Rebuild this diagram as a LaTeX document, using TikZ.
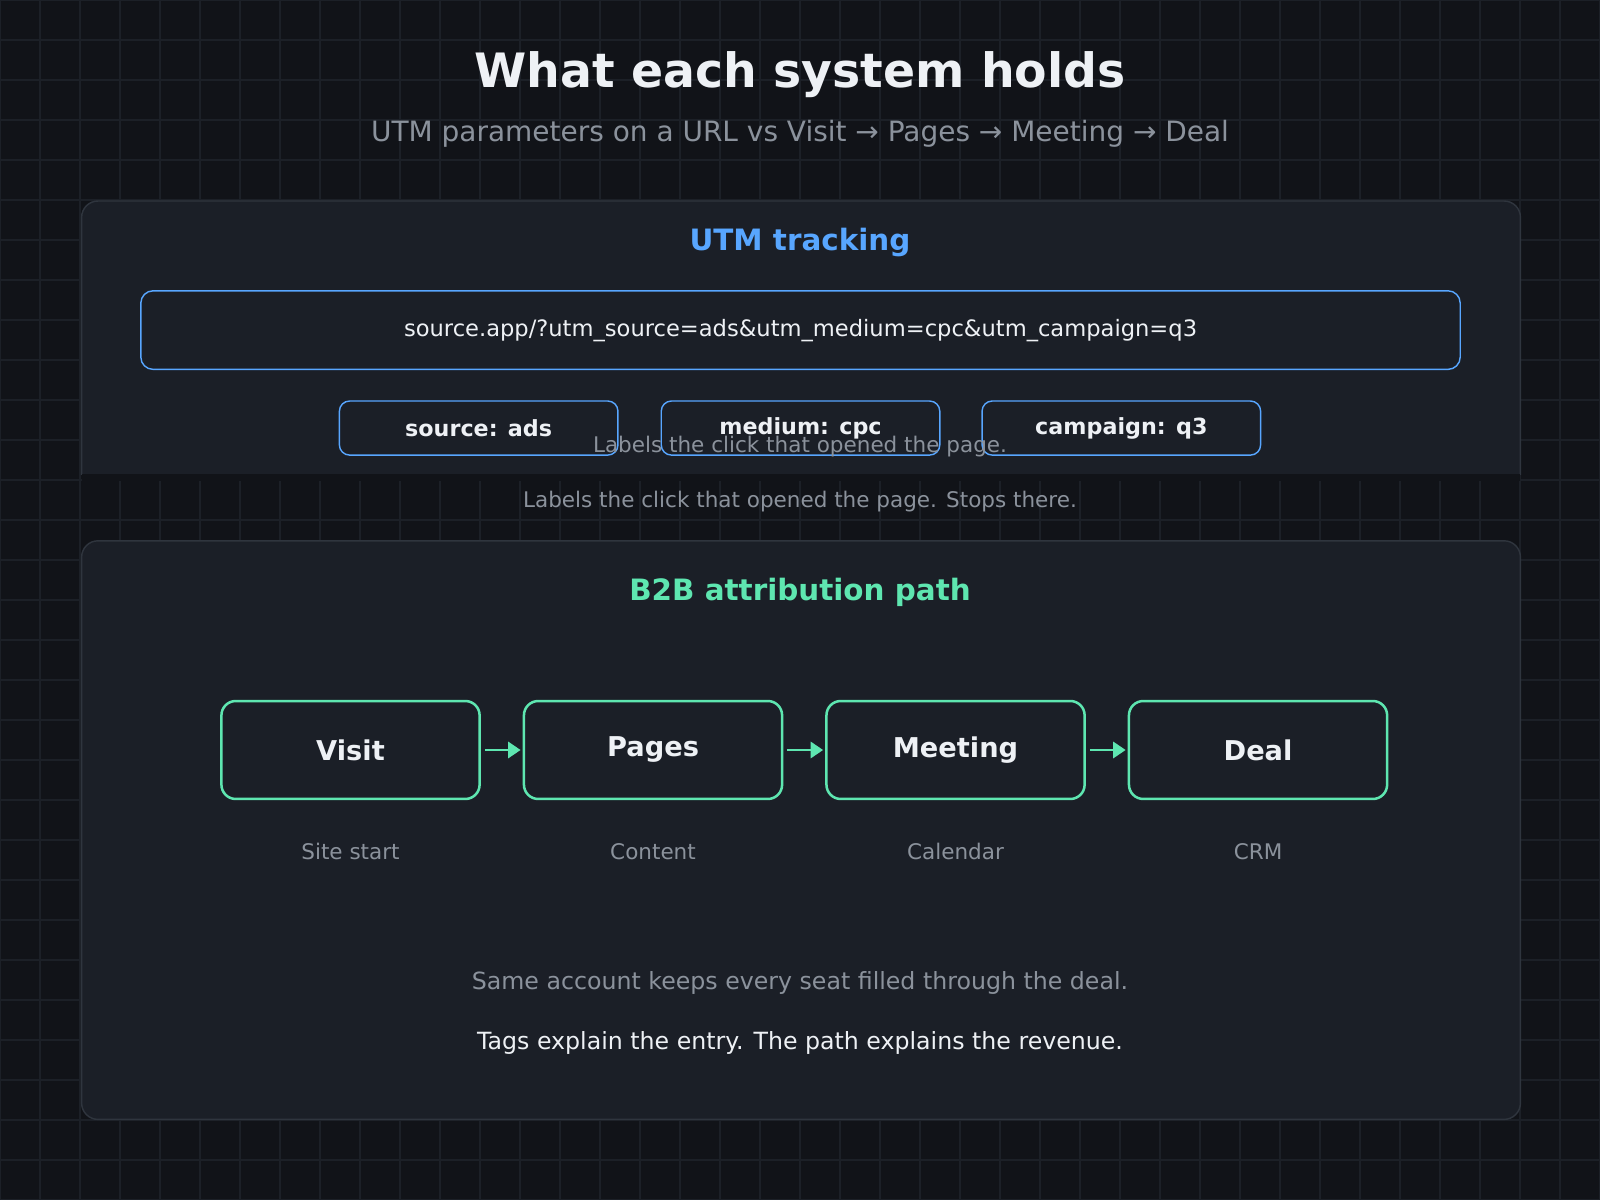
\documentclass[tikz,border=0pt]{standalone}
\usepackage{fontspec}
\setmainfont{DejaVu Sans}
\usetikzlibrary{positioning,arrows.meta}
\definecolor{bgc}{HTML}{111318}
\definecolor{gridc}{HTML}{1C2027}
\definecolor{panelc}{HTML}{1B1F27}
\definecolor{edgec}{HTML}{2F353E}
\definecolor{bluec}{HTML}{58A6FF}
\definecolor{greenc}{HTML}{5EE6B0}
\definecolor{textc}{HTML}{EEF1F5}
\definecolor{mutec}{HTML}{8B929C}
\tikzset{
  panel/.style={fill=panelc, draw=edgec, line width=0.4pt, rounded corners=0.16cm},
  chip/.style={draw=bluec, fill=panelc, line width=0.4pt, rounded corners=0.1cm, minimum width=2.73cm, minimum height=0.53cm, inner sep=0pt, font=\fontsize{6.2}{7}\selectfont\bfseries, text=textc},
  step box/.style={draw=greenc, fill=panelc, line width=0.7pt, rounded corners=0.14cm, minimum width=2.53cm, minimum height=0.96cm, inner sep=0pt, font=\fontsize{7.6}{9}\selectfont\bfseries, text=textc},
  step note/.style={text=mutec, font=\fontsize{6}{7}\selectfont},
  flow/.style={greenc, line width=0.8pt, -{Triangle[length=3.5pt,width=4.5pt]}}
}
\begin{document}
\begin{tikzpicture}
\useasboundingbox (0,0) rectangle (15.68,-11.76);
% background and grid
\fill[bgc] (0,0) rectangle (15.68,-11.76);
\draw[gridc, line width=0.3pt, step=0.392] (0,-11.76) grid (15.68,0);
% heading
\node[text=textc, font=\fontsize{13.2}{15}\selectfont\bfseries] (title) at (7.84,-0.73) {What each system holds};
\node[text=mutec, font=\fontsize{7.8}{9}\selectfont] (subtitle) at (7.84,-1.31) {UTM parameters on a URL vs Visit → Pages → Meeting → Deal};
% UTM panel, bottom edge cut off
\begin{scope}
  \clip (0,-1.9) rectangle (15.68,-4.65);
  \draw[panel] (0.8,-1.97) rectangle (14.9,-4.9);
\end{scope}
\fill[bgc] (0.8,-4.65) rectangle (14.9,-4.71);
\node[text=bluec, font=\fontsize{8.2}{10}\selectfont\bfseries] (utm) at (7.84,-2.38) {UTM tracking};
\node[draw=bluec, fill=panelc, line width=0.4pt, rounded corners=0.12cm, minimum width=12.93cm, minimum height=0.77cm, inner sep=0pt,
  text=textc, font=\fontsize{6.3}{8}\selectfont] (url) at (7.845,-3.235) {source.app/?utm\_source=ads\&utm\_medium=cpc\&utm\_campaign=q3};
\node[chip] (medium) at (7.845,-4.195) {medium: cpc};
\node[chip, left=0.41cm of medium] (source) {source: ads};
\node[chip, right=0.4cm of medium] (campaign) {campaign: q3};
\node[text=mutec, font=\fontsize{6}{7}\selectfont] (ghost) at (7.84,-4.38) {Labels the click that opened the page.};
\node[text=mutec, font=\fontsize{6}{7}\selectfont] (stops) at (7.84,-4.92) {Labels the click that opened the page. Stops there.};
% attribution panel
\draw[panel] (0.8,-5.3) rectangle (14.9,-10.97);
\node[text=greenc, font=\fontsize{8.2}{10}\selectfont\bfseries] (b2b) at (7.84,-5.81) {B2B attribution path};
\node[step box] (visit) at (3.435,-7.35) {Visit};
\node[step box, right=0.41cm of visit] (pages) {Pages};
\node[step box, right=0.41cm of pages] (meeting) {Meeting};
\node[step box, right=0.41cm of meeting] (deal) {Deal};
\foreach \s/\t in {visit/Site start, pages/Content, meeting/Calendar, deal/CRM}
  \node[step note, below=0.3cm of \s] (\s note) {\t};
\draw[flow] ([xshift=0.04cm]visit.east) -- ([xshift=-0.02cm]pages.west);
\draw[flow] ([xshift=0.04cm]pages.east) -- ([xshift=-0.02cm]meeting.west);
\draw[flow] ([xshift=0.04cm]meeting.east) -- ([xshift=-0.02cm]deal.west);
\node[text=mutec, font=\fontsize{6.6}{8}\selectfont] (seat) at (7.84,-9.63) {Same account keeps every seat filled through the deal.};
\node[text=textc, font=\fontsize{6.6}{8}\selectfont] (moral) at (7.84,-10.22) {Tags explain the entry. The path explains the revenue.};
\end{tikzpicture}
\end{document}
